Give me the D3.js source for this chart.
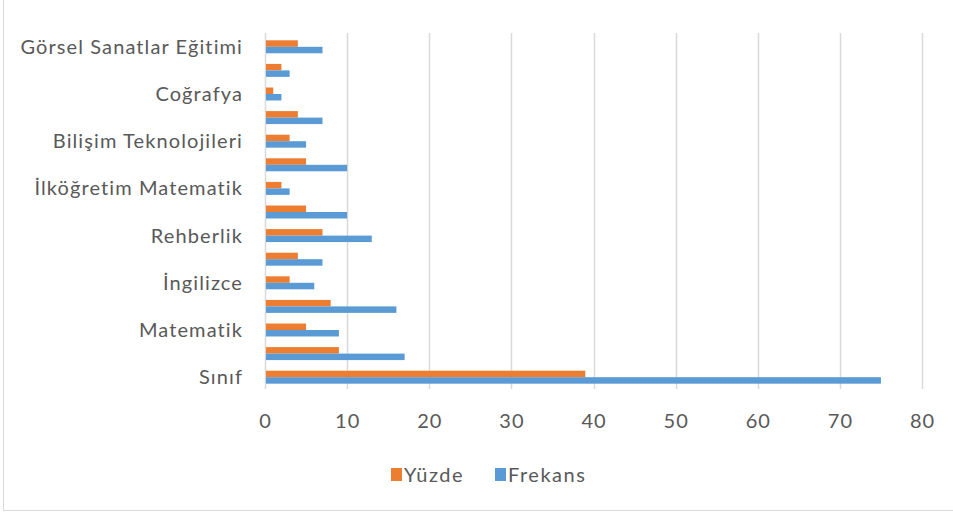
<!DOCTYPE html>
<html><head><meta charset="utf-8">
<script src="https://cdn.jsdelivr.net/npm/d3@7"></script>
<style>html,body{margin:0;padding:0;background:#fff;}svg{display:block;}</style>
</head><body>
<svg id="chart" width="953" height="513"></svg>
<script>
// Categories bottom-to-top order as in chart (only every other label visible)
const categories = ["Sınıf","","Matematik"," ","İngilizce","  ","Rehberlik","   ","İlköğretim Matematik","    ","Bilişim Teknolojileri","     ","Coğrafya","      ","Görsel Sanatlar Eğitimi"];
const yuzde   = [39, 9, 5, 8, 3, 4, 7, 5, 2, 5, 3, 4, 1, 2, 4];
const frekans = [75,17, 9,16, 6, 7,13,10, 3,10, 5, 7, 2, 3, 7];
const seriesNames = ["Yüzde","Frekans"];
const seriesColors = ["#ED7D31","#5B9BD5"];
const xTicks = [0,10,20,30,40,50,60,70,80];

const svg = d3.select("#chart");
const font = "Lato, 'Open Sans', sans-serif";
const textColor = "#595959";

// frame
svg.append("line").attr("x1",3.5).attr("x2",3.5).attr("y1",0).attr("y2",510).attr("stroke","#d9d9d9");
svg.append("line").attr("x1",3).attr("x2",953).attr("y1",510.5).attr("y2",510.5).attr("stroke","#d9d9d9");

const x = d3.scaleLinear().domain([0,80]).range([265,922]);
const idx = d3.range(categories.length);
const y = d3.scaleBand().domain(idx).range([389,35]).paddingInner(0.45).paddingOuter(0.225);
const sub = d3.scaleBand().domain(seriesNames).range([0,y.bandwidth()]);

// grid
svg.append("g").selectAll("line").data(xTicks).join("line")
  .attr("x1",d=>Math.round(x(d))+0.5).attr("x2",d=>Math.round(x(d))+0.5)
  .attr("y1",33).attr("y2",389).attr("stroke","#d9d9d9").attr("stroke-width",1.5);

// bars
const data = idx.map(i=>({i, vals:[yuzde[i], frekans[i]]}));
const g = svg.append("g");
data.forEach(d=>{
  seriesNames.forEach((s,k)=>{
    g.append("rect")
      .attr("x",x(0)+1)
      .attr("y",y(d.i)+sub(s))
      .attr("width",x(d.vals[k])-x(0)-1)
      .attr("height",sub.bandwidth())
      .attr("fill",seriesColors[k]);
  });
});

// x axis labels
const xAxis = d3.axisBottom(x).tickValues(xTicks).tickSize(0).tickPadding(0);
const xa = svg.append("g").attr("transform","translate(0,412)").call(xAxis);
xa.select(".domain").remove();
xa.selectAll("text").attr("font-family",font).attr("font-size",20).attr("letter-spacing","1px").attr("fill",textColor).attr("dy","0.8em");

// y axis labels
const yAxis = d3.axisLeft(y).tickFormat(i=>categories[i].trim()).tickSize(0).tickPadding(0);
const ya = svg.append("g").attr("transform","translate(243,0)").call(yAxis);
ya.select(".domain").remove();
ya.selectAll("text").attr("font-family",font).attr("font-size",20).attr("letter-spacing","1.1px").attr("fill",textColor).attr("dy","0.35em");

// legend
const leg = svg.append("g");
const legX = [391, 495];
seriesNames.forEach((s,k)=>{
  leg.append("rect").attr("x",legX[k]).attr("y",468).attr("width",11).attr("height",13).attr("fill",seriesColors[k]);
  leg.append("text").attr("x",legX[k]+13).attr("y",475).attr("dy","0.35em")
    .attr("font-family",font).attr("font-size",20).attr("letter-spacing","1.5px").attr("fill",textColor).text(s);
});
</script>
</body></html>
